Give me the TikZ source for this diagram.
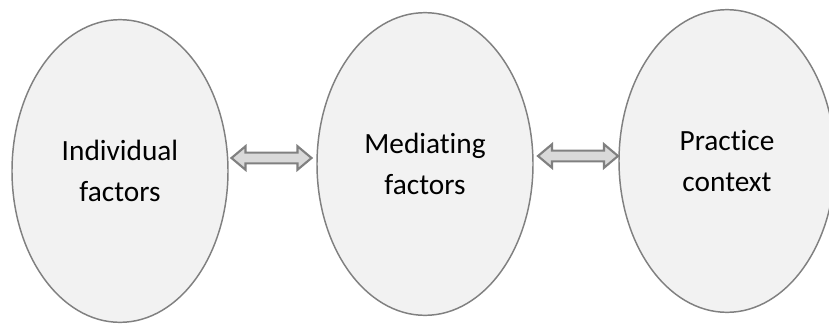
\documentclass[tikz,border=0pt]{standalone}
\usepackage{fontspec}
\setmainfont{Carlito}[Ligatures=NoCommon]
\usepackage{tikz}
\usetikzlibrary{shapes.geometric,shapes.arrows}
\definecolor{ovalfill}{HTML}{F2F2F2}
\definecolor{ovalline}{HTML}{808080}
\definecolor{arrfill}{HTML}{D9D9D9}
\begin{document}
\begin{tikzpicture}[
  x=0.75pt,y=-0.75pt,
  font=\fontsize{22}{31}\selectfont,
  oval/.style={ellipse,draw=ovalline,fill=ovalfill,line width=1.1pt,
    minimum width=162pt,minimum height=227pt,inner sep=0pt,align=center},
  dbl/.style={double arrow,draw=ovalline,fill=arrfill,line width=1.6pt,
    minimum height=60pt,inner xsep=0pt,inner ysep=3.2pt,
    double arrow head extend=4.8pt,double arrow tip angle=80}
]
\useasboundingbox (0,0) rectangle (829,325);
\node[oval] (ind) at (120,171) {Individual\\factors};
\node[oval] (med) at (425,164) {Mediating\\factors};
\node[oval] (ctx) at (727,161) {Practice\\context};
% two-way links
\node[dbl] (a1) at (271.5,158) {};
\node[dbl] (a2) at (578,156) {};
\end{tikzpicture}
\end{document}
